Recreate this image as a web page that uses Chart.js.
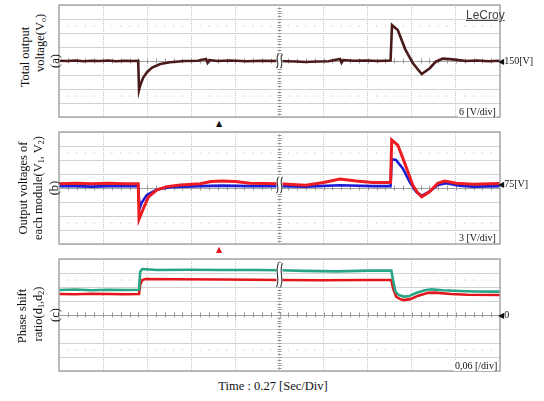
<!DOCTYPE html>
<html lang="en">
<head>
  <meta charset="UTF-8">
  <title>Scope traces</title>
  <script src="https://cdn.jsdelivr.net/npm/chart.js"></script>
  <style>
    body { margin: 0; background: #fff; width: 544px; height: 401px; position: relative; overflow: hidden;
           font-family: 'Liberation Serif', 'Times New Roman', serif; color: #111; }
    .box { position: absolute; width: 445px; height: 116px; left: 57px; }
    .rot { position: absolute; width: 130px; height: 14px; line-height: 14px; text-align: center;
           font-size: 12.5px; white-space: nowrap; transform: translate(-50%, -50%) rotate(-90deg); }
    .rot sub { font-size: 8px; vertical-align: -2px; line-height: 0; }
    .mark { position: absolute; font-size: 10px; line-height: 10px; white-space: nowrap; transform: translateY(-50%); }
    .mark b { font-family: 'DejaVu Sans', sans-serif; font-size: 8px; font-weight: normal; }
    .div { position: absolute; font-size: 10px; line-height: 10px; background: #fff; padding: 0 1px; white-space: nowrap; }
    .arrow { position: absolute; font-family: 'DejaVu Sans', sans-serif; font-size: 8px; line-height: 8px; transform: translateX(-50%); }
  </style>
</head>
<body>
  <div class="box" style="top:3px"><canvas id="scopeA"></canvas></div>
  <div class="box" style="top:130px"><canvas id="scopeB"></canvas></div>
  <div class="box" style="top:257px"><canvas id="scopeC"></canvas></div>

  <div class="rot" style="left:25px; top:57px">Total output</div>
  <div class="rot" style="left:40px; top:43px">voltage(V<sub>o</sub>)</div>
  <div class="rot" style="left:55px; top:61px">(a)</div>

  <div class="rot" style="left:23px; top:188px">Output voltages of</div>
  <div class="rot" style="left:38px; top:188px">each module(V<sub>1</sub>, V<sub>2</sub>)</div>
  <div class="rot" style="left:54px; top:188px">(b)</div>

  <div class="rot" style="left:22px; top:316px">Phase shift</div>
  <div class="rot" style="left:38px; top:314px">ratio(d<sub>1</sub>,d<sub>2</sub>)</div>
  <div class="rot" style="left:55px; top:315px">(c)</div>

  <div class="mark" style="left:498px; top:61px"><b>◀</b>150[V]</div>
  <div class="mark" style="left:498px; top:184px"><b>◀</b>75[V]</div>
  <div class="mark" style="left:498px; top:315px"><b>◀</b>0</div>

  <div class="div" style="left:458px; top:107px">6 [V/div]</div>
  <div class="div" style="left:458px; top:233px">3 [V/div]</div>
  <div class="div" style="left:454px; top:361px">0,06 [/div]</div>

  <div style="position:absolute; left:466px; top:8px; font-family:'Liberation Sans Narrow','Liberation Sans',sans-serif; font-size:12px; color:#444; text-decoration:underline;">LeCroy</div>

  <div class="arrow" style="left:219px; top:120px; color:#111">▲</div>
  <div class="arrow" style="left:219px; top:246px; color:#e3161b">▲</div>

  <div style="position:absolute; left:273px; top:379px; transform:translateX(-50%); font-size:12.5px; white-space:nowrap">Time : 0.27 [Sec/Div]</div>

  <script>
    // time in seconds, 0.27 s per division, 10 divisions
    const SEC_DIV = 0.27;

    // (a) total output voltage, 6 V/div around 150 V
    const tA = [0, 0.05, 0.10, 0.15, 0.20, 0.25, 0.30, 0.35, 0.40, 0.45, 0.485, 0.49, 0.497, 0.515, 0.54, 0.57, 0.62, 0.68, 0.77, 0.85, 0.90, 0.91, 0.92, 0.97, 1.05, 1.15, 1.25, 1.35, 1.45, 1.51, 1.58, 1.65, 1.72, 1.73, 1.74, 1.80, 1.88, 1.95, 2.03, 2.039, 2.045, 2.074, 2.12, 2.166, 2.209, 2.221, 2.27, 2.307, 2.35, 2.41, 2.49, 2.56, 2.63, 2.7];
    const vA = [150.1, 150.0, 150.2, 149.9, 150.1, 150.0, 150.2, 149.9, 150.1, 150.0, 150.1, 137.6, 139.5, 142.8, 145.3, 147.2, 148.7, 149.5, 150.0, 150.1, 150.9, 149.3, 150.4, 150.0, 150.2, 149.9, 150.1, 150.0, 149.8, 149.6, 149.8, 149.9, 150.9, 149.3, 150.4, 150.1, 150.2, 150.0, 150.2, 165.4, 165.0, 163.3, 155.0, 149.1, 145.4, 144.4, 146.9, 149.7, 151.0, 150.7, 150.0, 150.2, 149.9, 150.1];

    // (b) module voltages V1 (red) and V2 (blue), 3 V/div around 75 V
    const tV1 = [0, 0.1, 0.2, 0.3, 0.4, 0.485, 0.49, 0.517, 0.548, 0.60, 0.661, 0.742, 0.865, 0.93, 1.0, 1.08, 1.17, 1.35, 1.51, 1.62, 1.72, 1.82, 1.92, 2.03, 2.037, 2.074, 2.105, 2.136, 2.166, 2.197, 2.221, 2.268, 2.319, 2.361, 2.432, 2.534, 2.7];
    const vV1 = [75.9, 76.0, 75.9, 76.0, 75.9, 75.9, 68.3, 70.65, 73.1, 74.6, 75.3, 75.64, 75.9, 76.4, 76.5, 76.4, 76.0, 75.9, 75.6, 76.2, 76.9, 76.5, 76.2, 76.2, 85.3, 84.2, 81.4, 78.5, 75.6, 73.9, 73.1, 74.2, 76.0, 76.5, 76.0, 75.8, 75.96];
    const tV2 = [0, 0.1, 0.2, 0.3, 0.4, 0.485, 0.493, 0.507, 0.538, 0.60, 0.681, 0.761, 0.865, 1.0, 1.17, 1.35, 1.51, 1.72, 1.92, 2.03, 2.037, 2.063, 2.105, 2.146, 2.187, 2.221, 2.268, 2.319, 2.370, 2.452, 2.534, 2.7];
    const vV2 = [75.4, 75.4, 75.3, 75.4, 75.4, 75.4, 70.6, 71.9, 73.5, 74.7, 75.15, 75.3, 75.4, 75.5, 75.4, 75.4, 75.3, 75.6, 75.4, 75.4, 81.15, 81.0, 79.2, 76.35, 74.2, 73.35, 74.2, 75.64, 76.0, 75.5, 75.3, 75.4];

    // (c) phase shift ratios d1 (green) and d2 (red), 0.06 /div around 0
    const tD1 = [0, 0.1, 0.2, 0.3, 0.4, 0.49, 0.497, 0.51, 0.53, 0.6, 0.8, 1.0, 1.2, 1.35, 1.5, 1.7, 1.9, 2.035, 2.045, 2.06, 2.08, 2.11, 2.14, 2.19, 2.24, 2.28, 2.35, 2.45, 2.55, 2.7];
    const vD1 = [0.107, 0.109, 0.106, 0.108, 0.107, 0.108, 0.185, 0.197, 0.196, 0.193, 0.194, 0.193, 0.193, 0.192, 0.189, 0.187, 0.190, 0.190, 0.150, 0.100, 0.086, 0.079, 0.080, 0.095, 0.106, 0.110, 0.106, 0.103, 0.101, 0.100];
    const tD2 = [0, 0.1, 0.2, 0.3, 0.4, 0.49, 0.497, 0.51, 0.53, 0.7, 1.0, 1.35, 1.6, 1.9, 2.035, 2.045, 2.065, 2.09, 2.11, 2.15, 2.2, 2.26, 2.3, 2.4, 2.5, 2.7];
    const vD2 = [0.090, 0.089, 0.091, 0.090, 0.089, 0.090, 0.130, 0.150, 0.154, 0.153, 0.152, 0.150, 0.149, 0.150, 0.150, 0.115, 0.078, 0.068, 0.064, 0.068, 0.083, 0.095, 0.096, 0.090, 0.087, 0.086];

    const pts = (ts, vs) => ts.map((t, i) => ({ x: t, y: vs[i] }));

    // graticule extras: dotted rows, centre ticks, frame and the time-break mark
    const scopePlugin = {
      id: 'scope',
      beforeDatasetsDraw(chart, args, opts) {
        const { ctx, chartArea: a, scales: { x, y } } = chart;
        const yc = y.getPixelForValue(opts.center);
        const xc = x.getPixelForValue(5 * SEC_DIV);
        const dy = Math.abs(y.getPixelForValue(opts.center + opts.step) - yc);
        ctx.save();
        ctx.fillStyle = '#b8b8b8';
        for (let i = 1; i < 50; i++) {
          if (i % 5 === 0) continue;
          const px = x.getPixelForValue(i * SEC_DIV / 5);
          ctx.fillRect(px - 0.5, yc - 2.5 * dy - 0.5, 1, 1);
          ctx.fillRect(px - 0.5, yc + 2.5 * dy - 0.5, 1, 1);
        }
        ctx.strokeStyle = '#999';
        ctx.lineWidth = 1;
        ctx.beginPath();
        for (let i = 1; i < 50; i++) {
          const px = Math.round(x.getPixelForValue(i * SEC_DIV / 5)) + 0.5;
          ctx.moveTo(px, yc - 2.5); ctx.lineTo(px, yc + 2.5);
        }
        for (let j = 1; j < 40; j++) {
          const py = Math.round(a.top + j * dy / 5) + 0.5;
          ctx.moveTo(xc - 2, py); ctx.lineTo(xc + 2, py);
        }
        ctx.stroke();
        ctx.restore();
      },
      afterDatasetsDraw(chart, args, opts) {
        const { ctx, chartArea: a, scales: { x, y } } = chart;
        const xb = x.getPixelForValue(5 * SEC_DIV);
        const y0 = y.getPixelForValue(opts.breakHi);
        const y1 = y.getPixelForValue(opts.breakLo);
        const top = y0 - 7, bot = y1 + 7;
        ctx.save();
        ctx.fillStyle = '#fff';
        ctx.fillRect(xb - 3, top, 6, bot - top);
        ctx.strokeStyle = '#333';
        ctx.lineWidth = 1.1;
        for (const off of [-2, 2]) {
          const h = bot - top;
          ctx.beginPath();
          ctx.moveTo(xb + off + 1, top);
          ctx.bezierCurveTo(xb + off - 3, top + h * 0.3, xb + off + 3, top + h * 0.7, xb + off - 1, bot);
          ctx.stroke();
        }
        // frame
        ctx.strokeStyle = '#a8a8a8';
        ctx.lineWidth = 1.5;
        ctx.strokeRect(a.left, a.top, a.right - a.left, a.bottom - a.top);
        ctx.restore();
      }
    };

    function makeScope(id, center, step, datasets, breakHi, breakLo) {
      const eps = step / 1000;
      return new Chart(document.getElementById(id), {
        type: 'line',
        data: { datasets: datasets },
        options: {
          animation: false,
          responsive: true,
          maintainAspectRatio: false,
          layout: { padding: 2 },
          elements: { point: { radius: 0 }, line: { tension: 0, borderWidth: 2.6 } },
          plugins: {
            legend: { display: false },
            tooltip: { enabled: false },
            scope: { center: center, step: step, breakHi: breakHi, breakLo: breakLo }
          },
          scales: {
            x: {
              type: 'linear', min: 0, max: 10 * SEC_DIV,
              ticks: { display: false, stepSize: SEC_DIV },
              grid: { color: '#c6c6c6', drawTicks: false },
              border: { display: false, dash: [1, 1] }
            },
            y: {
              min: center - 4 * step, max: center + 4 * step,
              ticks: { display: false, stepSize: step },
              grid: {
                drawTicks: false,
                color: (c) => (c.tick && Math.abs(c.tick.value - center) < eps) ? '#a0a0a0' : '#d2d2d2'
              },
              border: { display: false }
            }
          }
        },
        plugins: [scopePlugin]
      });
    }

    makeScope('scopeA', 150, 6, [
      { data: pts(tA, vA), borderColor: '#4a1a1a', borderWidth: 2.6 }
    ], 150, 150);

    makeScope('scopeB', 75, 3, [
      { data: pts(tV1, vV1), borderColor: '#ec1c22', borderWidth: 3 },
      { data: pts(tV2, vV2), borderColor: '#1c1cd6', borderWidth: 2.6 }
    ], 75.9, 75.4);

    makeScope('scopeC', 0, 0.06, [
      { data: pts(tD1, vD1), borderColor: '#27a585', borderWidth: 2.6 },
      { data: pts(tD2, vD2), borderColor: '#e3161b', borderWidth: 2.6 }
    ], 0.192, 0.150);
  </script>
</body>
</html>
